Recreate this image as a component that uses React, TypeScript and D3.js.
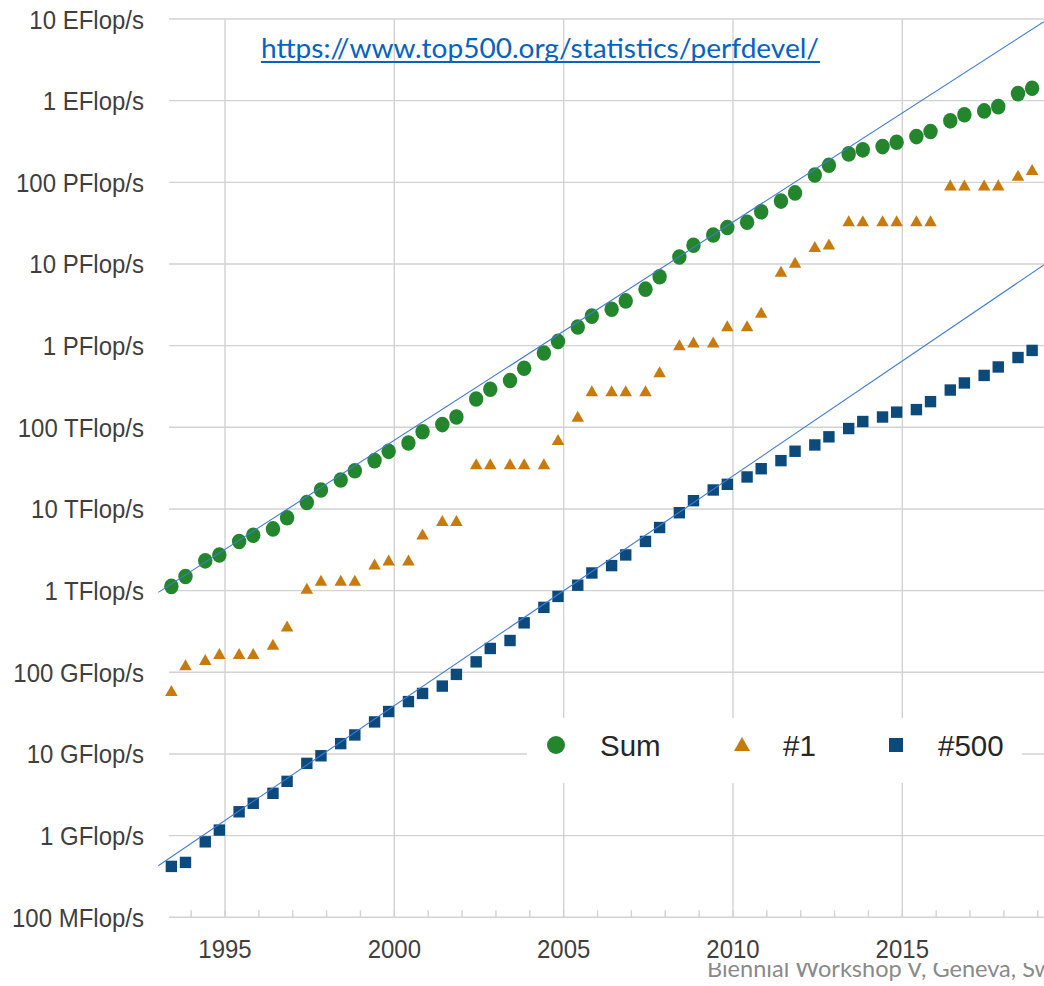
import React from "react";
import * as d3 from "d3";

// TOP500 lists: June and November of each year
const listYears = d3.range(1993, 2019);
const listMonths = [6, 11];

// Performance in GFlop/s, one value per list (Jun 1993 ... Nov 2018)
const sumValues = [
  1128, 1493, 2317, 2732, 3992, 4763, 5700, 7800, 12020, 17100,
  22600, 29400, 39100, 50800, 64300, 88100, 108000, 134000, 222000, 293000,
  375000, 528000, 813000, 1127000, 1690000, 2300000, 2790000, 3530000, 4920000, 6970000,
  12200000, 16950000, 22600000, 27950000, 32400000, 43700000, 58900000, 74200000, 123000000, 162000000,
  223000000, 250000000, 274000000, 309000000, 363000000, 420000000, 566000000, 672000000, 749000000, 845000000,
  1220000000, 1420000000,
];
const firstValues = [
  59.7, 124, 143.4, 170, 170, 170, 220.4, 368.2, 1068, 1338,
  1338, 1338, 2121, 2379, 2379, 4938, 7226, 7226, 35860, 35860,
  35860, 35860, 35860, 70720, 136800, 280600, 280600, 280600, 280600, 478200,
  1026000, 1105000, 1105000, 1759000, 1759000, 2566000, 8162000, 10510000, 16320000, 17590000,
  33860000, 33860000, 33860000, 33860000, 33860000, 33860000, 93010000, 93010000, 93010000, 93010000,
  122300000, 143500000,
];
const lastValues = [
  0.42, 0.47, 0.84, 1.17, 1.96, 2.49, 3.3, 4.62, 7.67, 9.51,
  13.39, 17.1, 24.7, 33.1, 43.8, 55.1, 67.8, 94.3, 134.3, 195.8,
  245.1, 403.4, 624, 850.6, 1166, 1646, 2026, 2737, 4005, 5929,
  9000, 12640, 17090, 20050, 24670, 31120, 39090, 50940, 60820, 76500,
  96620, 117800, 133700, 153400, 164700, 206300, 286100, 349300, 432200, 548300,
  715600, 874800,
];

// Trend lines: [year, GFlop/s] endpoints
const sumTrend: [number, number][] = [[1993.03, 953], [2019.18, 9.27e9]];
const lastTrend: [number, number][] = [[1993.03, 0.428], [2019.18, 9.73e6]];

// Axis ticks
const yTickValues = [1e10, 1e9, 1e8, 1e7, 1e6, 1e5, 1e4, 1e3, 100, 10, 1, 0.1];
const yTickLabels = [
  "10 EFlop/s", "1 EFlop/s", "100 PFlop/s", "10 PFlop/s", "1 PFlop/s", "100 TFlop/s",
  "10 TFlop/s", "1 TFlop/s", "100 GFlop/s", "10 GFlop/s", "1 GFlop/s", "100 MFlop/s",
];
const xLabelYears = [1995, 2000, 2005, 2010, 2015];
const minorYears = d3.range(1994, 2020);

const seriesNames = ["Sum", "#1", "#500"];
const urlText = "https://www.top500.org/statistics/perfdevel/";
const footerText = "Biennial Workshop V, Geneva, Sw";

const COLORS = { sum: "#23852c", first: "#c87b0c", last: "#0c4a7c" };
const GRID = "#d2d2d2";
const TREND = "#3f7bdc";

export default function App() {
  const W = 1044;
  const H = 986;
  const x = d3.scaleLinear().domain([1995, 2015]).range([225, 902.3]);
  const y = d3.scaleLog().domain([0.1, 1e10]).range([917.3, 19]);
  const plotLeft = 169;
  const plotRight = W + 20;
  const plotTop = y(1e10);
  const plotBottom = y(0.1);

  const dates = listYears.flatMap((yr) => listMonths.map((m) => yr + (m - 1) / 12));

  const line = d3
    .line<[number, number]>()
    .x((d) => x(d[0]))
    .y((d) => y(d[1]));

  const tri = (cx: number, cy: number, w: number, h: number) =>
    `M${cx - w / 2},${cy + h / 2}L${cx},${cy - h / 2}L${cx + w / 2},${cy + h / 2}Z`;

  const labelFont = "'Liberation Sans', Arial, sans-serif";

  const legendY = 745;
  const legendItems = [
    { name: seriesNames[0], mx: 556, tx: 600, kind: "circle" },
    { name: seriesNames[1], mx: 742, tx: 783, kind: "tri" },
    { name: seriesNames[2], mx: 896, tx: 938, kind: "square" },
  ];

  return (
    <svg
      width={W}
      height={H}
      style={{ position: "absolute", left: 0, top: 0, background: "#fff" }}
    >
      <defs>
        <clipPath id="footclip">
          <rect x={0} y={963} width={W} height={H - 963} />
        </clipPath>
      </defs>
      <rect x={0} y={0} width={W} height={H} fill="#fff" />

      {/* horizontal gridlines */}
      {yTickValues.map((v) => (
        <line
          key={"h" + v}
          x1={plotLeft}
          x2={plotRight}
          y1={y(v)}
          y2={y(v)}
          stroke={GRID}
          strokeWidth={1.4}
        />
      ))}
      {/* vertical gridlines */}
      {xLabelYears.map((yr) => (
        <line
          key={"v" + yr}
          x1={x(yr)}
          x2={x(yr)}
          y1={plotTop}
          y2={plotBottom}
          stroke={GRID}
          strokeWidth={1.4}
        />
      ))}
      {/* minor year ticks */}
      {minorYears.map((yr) => (
        <line
          key={"t" + yr}
          x1={x(yr)}
          x2={x(yr)}
          y1={plotBottom - 7}
          y2={plotBottom}
          stroke={GRID}
          strokeWidth={1.4}
        />
      ))}

      {/* y labels */}
      {yTickValues.map((v, i) => (
        <g key={"yl" + v} transform={`translate(144,${y(v) + 9.5}) scale(1,1.1)`}>
          <text
            x={0}
            y={0}
            textAnchor="end"
            fontFamily={labelFont}
            fontSize={24}
            fill="#3f3f3f"
          >
            {yTickLabels[i]}
          </text>
        </g>
      ))}
      {/* x labels */}
      {xLabelYears.map((yr) => (
        <g key={"xl" + yr} transform={`translate(${x(yr)},958) scale(1,1.1)`}>
          <text
            x={0}
            y={0}
            textAnchor="middle"
            fontFamily={labelFont}
            fontSize={24}
            fill="#3f3f3f"
          >
            {yr}
          </text>
        </g>
      ))}

      {/* #500 squares */}
      {lastValues.map((v, i) => (
        <rect
          key={"s" + i}
          x={x(dates[i]) - 5.7}
          y={y(v) - 5.7}
          width={11.4}
          height={11.4}
          fill={COLORS.last}
        />
      ))}
      {/* #1 triangles */}
      {firstValues.map((v, i) => (
        <path key={"f" + i} d={tri(x(dates[i]), y(v), 12.5, 11)} fill={COLORS.first} />
      ))}
      {/* Sum circles */}
      {sumValues.map((v, i) => (
        <ellipse
          key={"c" + i}
          cx={x(dates[i])}
          cy={y(v)}
          rx={7.2}
          ry={7.8}
          fill={COLORS.sum}
        />
      ))}

      {/* trend lines */}
      <path d={line(sumTrend) || ""} fill="none" stroke={TREND} strokeWidth={1.1} />
      <path d={line(lastTrend) || ""} fill="none" stroke={TREND} strokeWidth={1.1} />

      {/* legend */}
      <rect x={527} y={718} width={495} height={65} fill="#fff" />
      {legendItems.map((it) => (
        <g key={it.name}>
          {it.kind === "circle" && (
            <circle cx={it.mx} cy={legendY} r={9} fill={COLORS.sum} />
          )}
          {it.kind === "tri" && (
            <path d={tri(it.mx, legendY - 1, 16, 14)} fill={COLORS.first} />
          )}
          {it.kind === "square" && (
            <rect x={it.mx - 7} y={legendY - 7} width={14} height={14} fill={COLORS.last} />
          )}
          <text
            x={it.tx}
            y={legendY + 10.5}
            fontFamily={labelFont}
            fontSize={29.5}
            fill="#262626"
          >
            {it.name}
          </text>
        </g>
      ))}

      {/* URL */}
      <text
        x={261}
        y={58}
        fontFamily="Lato, 'Open Sans', sans-serif"
        fontSize={27}
        fill="#0563c1"
        textLength={558}
        lengthAdjust="spacingAndGlyphs"
      >
        {urlText}
      </text>
      <line x1={261} x2={820} y1={62} y2={62} stroke="#0563c1" strokeWidth={2} />

      {/* footer (partly hidden) */}
      <text
        x={707}
        y={977}
        fontFamily="Lato, 'Open Sans', sans-serif"
        fontSize={23}
        fill="#8a8a8a"
        clipPath="url(#footclip)"
        textLength={346}
        lengthAdjust="spacingAndGlyphs"
      >
        {footerText}
      </text>
    </svg>
  );
}
